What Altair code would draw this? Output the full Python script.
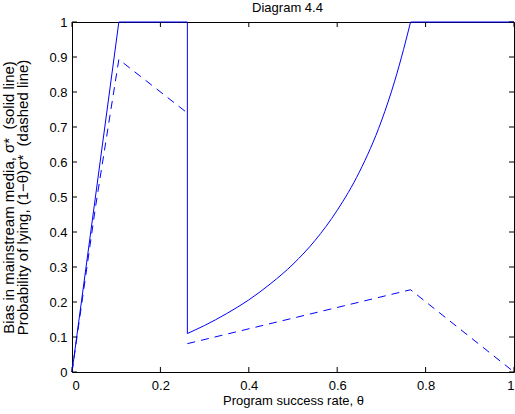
import altair as alt
import pandas as pd

# ---- data ----
# solid line (sigma*): straight pieces
solid_x = [0.0, 0.106, 0.261, 0.261]
solid_y = [0.0, 1.0, 1.0, 0.110]
solid2_x = [0.766, 1.0]
solid2_y = [1.0, 1.0]
# solid line: convex curve between the jump and the cap
curve_x = [0.261, 0.30, 0.35, 0.40, 0.45, 0.50, 0.55, 0.60, 0.65, 0.70, 0.73, 0.75, 0.766]
curve_y = [0.110, 0.133, 0.167, 0.206, 0.253, 0.308, 0.376, 0.462, 0.571, 0.717, 0.831, 0.921, 1.0]
# dashed line ((1-theta) sigma*)
dash1_x = [0.0, 0.053, 0.106, 0.261]
dash1_y = [0.0, 0.470, 0.893, 0.740]
dash2_x = [0.261, 0.766, 1.0]
dash2_y = [0.081, 0.235, 0.0]

x_ticks = [0, 0.2, 0.4, 0.6, 0.8, 1]
y_ticks = [0, 0.1, 0.2, 0.3, 0.4, 0.5, 0.6, 0.7, 0.8, 0.9, 1]
title_text = "Diagram 4.4"

FONT = "Liberation Sans"
BLUE = "#0000ff"
W, H = 442, 350

def seg_df(xs, ys, seg):
    return pd.DataFrame({"x": xs, "y": ys, "seg": seg, "o": list(range(len(xs)))})

straight = pd.concat([seg_df(solid_x, solid_y, "a"), seg_df(solid2_x, solid2_y, "b")])
curve = seg_df(curve_x, curve_y, "c")
dashed = pd.concat([seg_df(dash1_x, dash1_y, "d1"), seg_df(dash2_x, dash2_y, "d2")])

xaxis = alt.Axis(values=x_ticks, format="~g", ticks=False, domain=False, grid=False,
                 labelFont=FONT, labelFontSize=13, labelColor="black",
                 labelBaseline="alphabetic", labelPadding=17, tickSize=0,
                 title="Program success rate, θ", titleFont=FONT, titleFontSize=13,
                 titleFontWeight="normal", titleColor="black",
                 titleBaseline="alphabetic", titleY=32.5, titleX=W / 2)
yaxis = alt.Axis(values=y_ticks, format="~g", ticks=False, domain=False, grid=False,
                 labelFont=FONT, labelFontSize=13, labelColor="black",
                 labelPadding=5, tickSize=0,
                 title=["Bias in mainstream media, σ*\u00a0\u00a0(solid line)",
                        "Probability of lying, (1−θ)σ*\u00a0\u00a0(dashed line)"],
                 titleFont=FONT, titleFontSize=15, titleFontWeight="normal",
                 titleColor="black", titleLineHeight=14, titleAngle=-90,
                 titleBaseline="alphabetic", titleAlign="center",
                 titleX=-58.5, titleY=H / 2)

X = alt.X("x:Q", scale=alt.Scale(domain=[0, 1], nice=False, zero=False), axis=xaxis)
Y = alt.Y("y:Q", scale=alt.Scale(domain=[0, 1], nice=False, zero=False), axis=yaxis)

l_straight = alt.Chart(straight).mark_line(color=BLUE, strokeWidth=1).encode(
    x=X, y=Y, detail="seg:N", order="o:Q")
l_curve = alt.Chart(curve).mark_line(color=BLUE, strokeWidth=1, interpolate="monotone").encode(
    x=X, y=Y, order="o:Q")
l_dash = alt.Chart(dashed).mark_line(color=BLUE, strokeWidth=1, strokeDash=[8, 6]).encode(
    x=X, y=Y, detail="seg:N", order="o:Q")

ydf = pd.DataFrame({"y": y_ticks})
xdf = pd.DataFrame({"x": x_ticks})
tk = dict(color="black", strokeWidth=1)
t_left = alt.Chart(ydf).mark_rule(**tk).encode(y=Y, x=alt.value(0), x2=alt.value(5))
t_right = alt.Chart(ydf).mark_rule(**tk).encode(y=Y, x=alt.value(W - 5), x2=alt.value(W))
t_bot = alt.Chart(xdf).mark_rule(**tk).encode(x=X, y=alt.value(H), y2=alt.value(H - 5))
t_top = alt.Chart(xdf).mark_rule(**tk).encode(x=X, y=alt.value(0), y2=alt.value(5))

title = alt.Chart(pd.DataFrame({"t": [title_text]})).mark_text(
    font=FONT, fontSize=13, color="black", align="center", baseline="alphabetic"
).encode(text="t:N", x=alt.value(W / 2 - 5.5), y=alt.value(-9.7))

chart = alt.layer(l_straight, l_curve, l_dash, t_left, t_right, t_bot, t_top, title).properties(
    width=W, height=H,
    autosize=alt.AutoSizeParams(type="none"),
    padding={"left": 72, "top": 22, "right": 1, "bottom": 42},
    background="white",
).configure_view(stroke="black", strokeWidth=1)

chart.save("out.html", embed_options={"renderer": "svg", "actions": False})
